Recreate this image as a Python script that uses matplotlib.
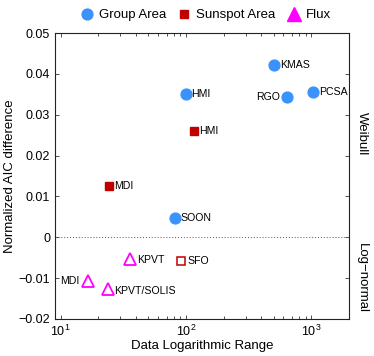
import numpy as np
import matplotlib
matplotlib.use("Agg")
import matplotlib.pyplot as plt
from matplotlib.ticker import FixedLocator, FuncFormatter

plt.rcParams['font.family'] = ['Liberation Sans', 'DejaVu Sans']

# Group Area (filled blue circles)
grp_names = ["HMI", "KMAS", "RGO", "PCSA", "SOON"]
grp_x = [100, 508, 637, 1037, 81]
grp_y = [0.0352, 0.0421, 0.0343, 0.0356, 0.0048]

# Sunspot Area (dark red squares)
ssa_names = ["MDI", "HMI"]
ssa_x = [24.3, 116]
ssa_y = [0.0126, 0.0260]
sfo_name = "SFO"
sfo_x = [92]
sfo_y = [-0.0058]

# Flux (magenta open triangles)
flux_names = ["KPVT", "MDI", "KPVT/SOLIS"]
flux_x = [35.7, 16.6, 23.7]
flux_y = [-0.0052, -0.0106, -0.0127]

blue = "#3a93fb"
red = "#c00000"
mag = "#ff00ff"

fig = plt.figure(figsize=(3.74, 3.56), dpi=100)
ax = fig.add_axes([0.147, 0.104, 0.786, 0.803])

ax.axhline(0, color="#555555", lw=0.7, ls=(0, (1, 2)))

ax.plot(grp_x, grp_y, "o", color=blue, ms=7.8, mec=blue, ls="none", label="Group Area")
ax.plot(ssa_x, ssa_y, "s", color=red, ms=6, mec=red, ls="none", label="Sunspot Area")
ax.plot(sfo_x, sfo_y, "s", mfc="none", mec=red, mew=1.1, ms=6, ls="none")
ax.plot(flux_x, flux_y, "^", mfc="none", mec=mag, mew=1.3, ms=9, ls="none")
# legend handle for Flux is filled
ax.plot([], [], "^", color=mag, ms=10, ls="none", label="Flux")

fs = 7.6
left_labels = {"RGO"}
for n, x, y in zip(grp_names, grp_x, grp_y):
    if n in left_labels:
        ax.annotate(n, (x, y), xytext=(-5, 0), textcoords="offset points",
                    ha="right", va="center", fontsize=fs)
    else:
        ax.annotate(n, (x, y), xytext=(4, 0), textcoords="offset points",
                    ha="left", va="center", fontsize=fs)
for n, x, y in zip(ssa_names, ssa_x, ssa_y):
    ax.annotate(n, (x, y), xytext=(4, 0), textcoords="offset points",
                ha="left", va="center", fontsize=fs)
ax.annotate(sfo_name, (sfo_x[0], sfo_y[0]), xytext=(4, 0), textcoords="offset points",
            ha="left", va="center", fontsize=fs)
for n, x, y in zip(flux_names, flux_x, flux_y):
    if n == "MDI":
        ax.annotate(n, (x, y), xytext=(-6, 0), textcoords="offset points",
                    ha="right", va="center", fontsize=fs)
    else:
        ax.annotate(n, (x, y), xytext=(5, -1), textcoords="offset points",
                    ha="left", va="center", fontsize=fs)

ax.set_xscale("log")
ax.set_xlim(9, 2000)
ax.set_ylim(-0.02, 0.05)
ax.yaxis.set_major_locator(FixedLocator(np.arange(-0.02, 0.051, 0.01)))
ax.yaxis.set_major_formatter(FuncFormatter(
    lambda v, p: "0" if abs(v) < 1e-9 else ("%.2f" % v).replace("-", "\u2212")))

ax.tick_params(which="both", direction="in", top=True, right=True,
               labelsize=9, width=0.6, color="#333333")
ax.tick_params(which="major", length=3)
ax.tick_params(which="minor", length=2)
for s in ax.spines.values():
    s.set_linewidth(0.8)
    s.set_color("#222222")

ax.set_xlabel("Data Logarithmic Range", fontsize=9.5, labelpad=1)
ax.set_ylabel("Normalized AIC difference", fontsize=9.5, labelpad=2)

ax.text(1.045, 0.65, "Weibull", transform=ax.transAxes, rotation=-90,
        ha="center", va="center", fontsize=9.5)
ax.text(1.045, 0.143, "Log\u2212normal", transform=ax.transAxes, rotation=-90,
        ha="center", va="center", fontsize=9.5)

ax.legend(loc="center", bbox_to_anchor=(0.51, 1.063), ncol=3, frameon=False,
          fontsize=9.5, handletextpad=0.3, columnspacing=0.8, handlelength=1.2,
          borderaxespad=0.0, borderpad=0.0)

fig.savefig("out.png", dpi=100)
